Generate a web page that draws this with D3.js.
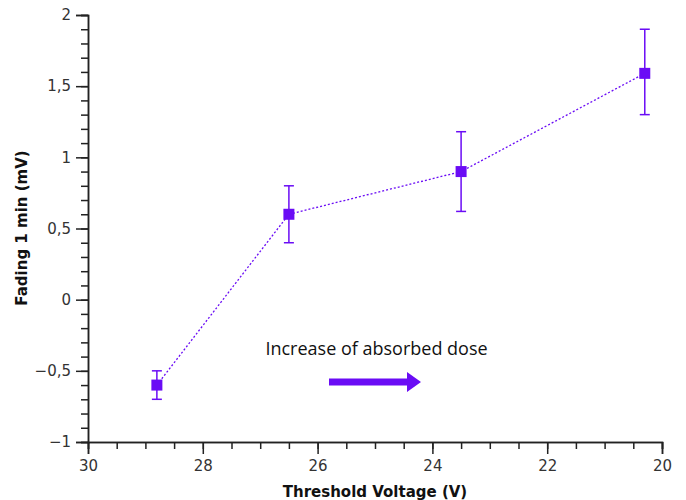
<!DOCTYPE html>
<html><head><meta charset="utf-8">
<script src="https://cdn.jsdelivr.net/npm/d3@7"></script>
<style>body{margin:0;background:#fff}svg{display:block}</style>
</head><body>
<svg id="c" width="686" height="500"></svg>
<script>
const thresholdV = [28.8, 26.5, 23.5, 20.3];
const fading = [-0.6, 0.6, 0.9, 1.59];
const errLow = [-0.7, 0.4, 0.62, 1.3];
const errHigh = [-0.5, 0.8, 1.18, 1.9];
const xTicks = [30, 28, 26, 24, 22, 20];
const yTicks = [-1, -0.5, 0, 0.5, 1, 1.5, 2];
const annotation = "Increase of absorbed dose";
const color = "#6a0cf5";

const svg = d3.select("#c");
const x = d3.scaleLinear().domain([30, 20]).range([88, 662]);
const y = d3.scaleLinear().domain([-1, 2]).range([442, 15]);
const fmt = v => (v < 0 ? "\u2212" : "") + String(Math.abs(v)).replace(".", ",");

// minor ticks
const gx = svg.append("g").attr("transform", "translate(0,442)");
gx.call(d3.axisBottom(x).tickValues(d3.range(20, 30.01, 0.5)).tickSize(7).tickFormat(""));
gx.append("g").call(d3.axisBottom(x).tickValues(xTicks).tickSize(12).tickFormat(fmt).tickPadding(6));
const gy = svg.append("g").attr("transform", "translate(88,0)");
gy.call(d3.axisLeft(y).tickValues(d3.range(-10, 20.1, 1).map(v => v / 10)).tickSize(7).tickFormat(""));
gy.append("g").call(d3.axisLeft(y).tickValues(yTicks).tickSize(12).tickFormat(fmt).tickPadding(5));
svg.selectAll(".domain").attr("stroke", "#222").attr("stroke-width", 1.5);
svg.selectAll(".tick line").attr("stroke", "#222").attr("stroke-width", 1.5);
svg.selectAll(".tick text").attr("font-family", "DejaVu Sans").attr("font-size", 15).attr("fill", "#333");

// axis titles
svg.append("text").attr("x", 375).attr("y", 497).attr("text-anchor", "middle")
  .attr("font-family", "DejaVu Sans").attr("font-weight", "bold").attr("font-size", 15).attr("fill", "#111")
  .text("Threshold Voltage (V)");
svg.append("text").attr("transform", "translate(27,228) rotate(-90)").attr("text-anchor", "middle")
  .attr("font-family", "DejaVu Sans").attr("font-weight", "bold").attr("font-size", 15).attr("fill", "#111")
  .text("Fading 1 min (mV)");

// line
const pts = thresholdV.map((v, i) => [v, fading[i]]);
svg.append("path").datum(pts)
  .attr("d", d3.line().x(d => x(d[0])).y(d => y(d[1])))
  .attr("fill", "none").attr("stroke", color).attr("stroke-width", 1.3).attr("stroke-dasharray", "2,2");

// error bars
const eb = svg.append("g").attr("stroke", color).attr("stroke-width", 1.5);
thresholdV.forEach((v, i) => {
  eb.append("line").attr("x1", x(v)).attr("x2", x(v)).attr("y1", y(errLow[i])).attr("y2", y(errHigh[i]));
  [errLow[i], errHigh[i]].forEach(e => eb.append("line").attr("x1", x(v) - 5).attr("x2", x(v) + 5).attr("y1", y(e)).attr("y2", y(e)));
});
// markers
svg.selectAll("rect.m").data(pts).enter().append("rect")
  .attr("x", d => x(d[0]) - 5.5).attr("y", d => y(d[1]) - 5.5).attr("width", 11).attr("height", 11).attr("fill", color);

// annotation
svg.append("text").attr("x", 376.5).attr("y", 355).attr("text-anchor", "middle")
  .attr("font-family", "Open Sans").attr("font-size", 18).attr("fill", "#111").text(annotation);
svg.append("path")
  .attr("d", "M329,378.5 L407,378.5 L407,372 L421,382 L407,392 L407,385.5 L329,385.5 Z")
  .attr("fill", color);
</script>
</body></html>
